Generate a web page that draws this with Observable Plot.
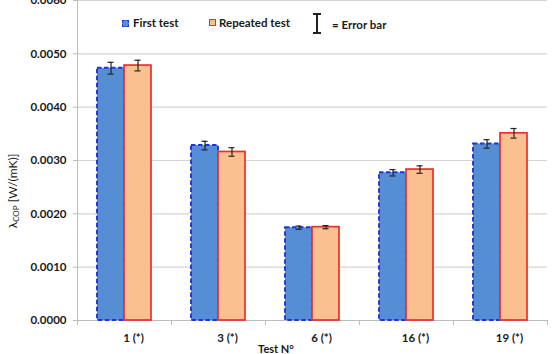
<!DOCTYPE html>
<html>
<head>
<meta charset="utf-8">
<script src="https://cdn.jsdelivr.net/npm/d3@7"></script>
<script src="https://cdn.jsdelivr.net/npm/@observablehq/plot@0.6"></script>
<style>
  html, body { margin: 0; padding: 0; background: #fff; }
  #wrap { position: relative; width: 553px; height: 354px; overflow: hidden; font-family: Lato, "Liberation Sans", sans-serif; color: #1a1a1a; }
  .ov { position: absolute; white-space: nowrap; line-height: 1; }
  .b { font-weight: bold; font-size: 11.5px; }
</style>
</head>
<body>
<div id="wrap">
  <div id="chart"></div>
  <div class="ov" style="left:122px;top:20px;width:5px;height:5px;background:#558ed5;border:1.8px dashed #1f35d8;"></div>
  <div class="ov b" style="left:133px;top:17px;">First test</div>
  <div class="ov" style="left:209px;top:19px;width:5px;height:5px;background:#fac090;border:1.8px solid #e8302f;"></div>
  <div class="ov b" style="left:219px;top:17px;">Repeated test</div>
  <div class="ov" style="left:316px;top:13px;width:1.5px;height:20px;background:#222;"></div>
  <div class="ov" style="left:313px;top:13px;width:8px;height:1.5px;background:#222;"></div>
  <div class="ov" style="left:313px;top:32px;width:8px;height:1.5px;background:#222;"></div>
  <div class="ov b" style="left:332px;top:19px;">= Error bar</div>
  <div class="ov" style="left:13px;top:191px;font-size:12px;transform:translate(-50%,-50%) rotate(-90deg);">λ<sub style="font-size:8px;vertical-align:-2px;">COP</sub> [W/(mK)]</div>
  <div class="ov b" style="left:276px;top:348px;transform:translate(-50%,-50%);font-size:11px;">Test N°</div>
</div>
<script>
const tests = ["1 (*)", "3 (*)", "6 (*)", "16 (*)", "19 (*)"];
const firstTest = [0.00473, 0.00328, 0.00174, 0.00277, 0.00331];
const repeatedTest = [0.00478, 0.00316, 0.00175, 0.00283, 0.00351];
const firstErr = [0.00011, 0.00008, 0.00003, 0.00006, 0.00008];
const repeatedErr = [0.00010, 0.00008, 0.00003, 0.00007, 0.00009];
const yTicks = [0, 0.001, 0.002, 0.003, 0.004, 0.005, 0.006];

const data = tests.map((t, i) => ({
  test: t,
  first: firstTest[i], firstErr: firstErr[i],
  repeated: repeatedTest[i], repeatedErr: repeatedErr[i]
}));

const W = 553, H = 354, mL = 77, mR = 6, mT = 0, mB = 34;
const bw = (W - mL - mR) / tests.length;   // band width in px
const barW = 27, outer = (bw - 2 * barW) / 2, capW = 6;
const capIn = (barW - capW) / 2;

const chart = Plot.plot({
  width: W, height: H,
  marginLeft: mL, marginRight: mR, marginTop: mT, marginBottom: mB,
  style: { fontFamily: "Lato, 'Liberation Sans', sans-serif", color: "#1a1a1a", background: "transparent", overflow: "visible" },
  x: { type: "band", domain: tests, padding: 0, axis: null },
  y: { domain: [0, 0.006], axis: null },
  marks: [
    Plot.ruleY(yTicks, { stroke: "#d4d4d4", strokeWidth: 1.2 }),
    Plot.axisY({ ticks: yTicks, tickFormat: d3.format(".4f"), tickSize: 4, tickPadding: 7, stroke: "#bdbdbd", fill: "#1a1a1a", fontSize: 11.5, fontWeight: "bold", label: null }),
    Plot.frame({ anchor: "left", stroke: "#bdbdbd" }),
    Plot.ruleY([0], { stroke: "#bdbdbd", strokeWidth: 1.2 }),
    Plot.ruleX(tests, { x: d => d, dx: -bw / 2, y1: 0, y2: 0, insetBottom: -5, stroke: "#bdbdbd" }),
    Plot.ruleX([tests[tests.length - 1]], { x: d => d, dx: bw / 2, y1: 0, y2: 0, insetBottom: -5, stroke: "#bdbdbd" }),
    Plot.barY(data, { x: "test", y: "first", fill: "#558ed5", stroke: "#1f35d8", strokeWidth: 1.9, strokeDasharray: "4.5,2.5", insetLeft: outer, insetRight: outer + barW }),
    Plot.barY(data, { x: "test", y: "repeated", fill: "#fac090", stroke: "#e8302f", strokeWidth: 1.7, insetLeft: outer + barW, insetRight: outer }),
    Plot.ruleX(data, { x: "test", y1: d => d.first - d.firstErr, y2: d => d.first + d.firstErr, dx: -barW / 2, stroke: "#222", strokeWidth: 1.2 }),
    Plot.tickY(data, { x: "test", y: d => d.first - d.firstErr, insetLeft: outer + capIn, insetRight: outer + barW + capIn, stroke: "#222", strokeWidth: 1.2 }),
    Plot.tickY(data, { x: "test", y: d => d.first + d.firstErr, insetLeft: outer + capIn, insetRight: outer + barW + capIn, stroke: "#222", strokeWidth: 1.2 }),
    Plot.ruleX(data, { x: "test", y1: d => d.repeated - d.repeatedErr, y2: d => d.repeated + d.repeatedErr, dx: barW / 2, stroke: "#222", strokeWidth: 1.2 }),
    Plot.tickY(data, { x: "test", y: d => d.repeated - d.repeatedErr, insetLeft: outer + barW + capIn, insetRight: outer + capIn, stroke: "#222", strokeWidth: 1.2 }),
    Plot.tickY(data, { x: "test", y: d => d.repeated + d.repeatedErr, insetLeft: outer + barW + capIn, insetRight: outer + capIn, stroke: "#222", strokeWidth: 1.2 }),
    Plot.axisX({ tickSize: 0, tickPadding: 13, dx: 9, fontSize: 11.5, fontWeight: "bold", fill: "#1a1a1a", label: null })
  ]
});
document.getElementById("chart").appendChild(chart);
</script>
</body>
</html>
